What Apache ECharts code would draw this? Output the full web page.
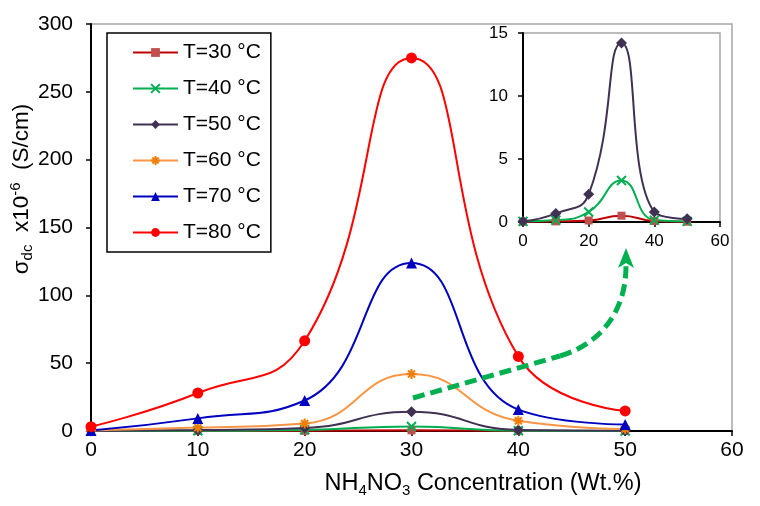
<!DOCTYPE html>
<html>
<head>
<meta charset="utf-8">
<script src="https://cdn.jsdelivr.net/npm/echarts@6/dist/echarts.min.js"></script>
<style>
  html, body { margin: 0; padding: 0; background: #fff; }
  #chart { width: 760px; height: 506px; }
</style>
</head>
<body>
<div id="chart"></div>
<script>
// NH4NO3 concentration (wt.%)
const conc = [0, 10, 20, 30, 40, 50];

// sigma_dc x10^-6 (S/cm)
const t30 = [0.02, 0.05, 0.12, 0.5, 0.08, 0.02];
const t40 = [0.05, 0.15, 0.8, 3.3, 0.15, 0.05];
const t50 = [0.05, 0.68, 2.2, 14.2, 0.8, 0.25];
const t60 = [0.4, 2.5, 5.5, 42, 7.5, 1.5];
const t70 = [0.3, 9.3, 22.5, 123.8, 15.8, 4.8];
const t80 = [3.2, 28, 66.5, 275, 55, 14.8];

const seriesNames = ["T=30 °C", "T=40 °C", "T=50 °C", "T=60 °C", "T=70 °C", "T=80 °C"];

const FONT = "Liberation Sans, Arial, sans-serif";
const crossPath = "path://M0,0L10,10M10,0L0,10";
const starPath = "path://M5,0L5,10M0,5L10,5M1.5,1.5L8.5,8.5M8.5,1.5L1.5,8.5";

const styles = [
  { line: "#C00000", mark: "#C0504D", symbol: "rect", size: 8 },
  { line: "#00B050", mark: "#00B050", symbol: crossPath, size: 9, stroke: true },
  { line: "#403152", mark: "#403152", symbol: "diamond", size: 11 },
  { line: "#F79646", mark: "#F07F09", symbol: starPath, size: 10, stroke: true },
  { line: "#0000C0", mark: "#0000C0", symbol: "triangle", size: 11 },
  { line: "#FF0000", mark: "#FF0000", symbol: "circle", size: 11 }
];

function pairs(vals) {
  return conc.map((c, i) => [c, vals[i]]);
}

function makeSeries(idx, vals, gridIdx) {
  const st = styles[idx];
  return {
    name: seriesNames[idx],
    type: "line",
    xAxisIndex: gridIdx,
    yAxisIndex: gridIdx,
    data: pairs(vals),
    smooth: 0.5,
    symbol: st.symbol,
    symbolSize: st.size,
    showAllSymbol: true,
    animation: false,
    lineStyle: { color: st.line, width: 2 },
    itemStyle: {
      color: st.mark,
      borderColor: st.mark,
      borderWidth: st.stroke ? 2 : 0
    }
  };
}

const chart = echarts.init(document.getElementById("chart"));

function valueAxis(gridIdx, max, interval, fontSize, margin) {
  return {
    type: "value",
    gridIndex: gridIdx,
    min: 0,
    max: max,
    interval: interval,
    splitLine: { show: false },
    axisLine: { show: true, onZero: false, lineStyle: { color: "#000", width: 2 } },
    axisTick: { show: true, inside: false, length: 5, lineStyle: { color: "#000", width: 1.5 } },
    axisLabel: { color: "#000", fontSize: fontSize, fontFamily: FONT, margin: margin }
  };
}

chart.setOption({
  backgroundColor: "#fff",
  grid: [
    { left: 91, top: 24, right: 28, bottom: 75, show: true, borderColor: "#A6A6A6", borderWidth: 1.5, backgroundColor: "transparent" },
    { left: 523, top: 33, right: 40, bottom: 284, show: true, borderColor: "#A6A6A6", borderWidth: 1.5, backgroundColor: "#fff" }
  ],
  xAxis: [
    valueAxis(0, 60, 10, 21, 9),
    valueAxis(1, 60, 20, 17, 11)
  ],
  yAxis: [
    valueAxis(0, 300, 50, 21, 18),
    valueAxis(1, 15, 5, 17, 15)
  ],
  legend: {
    left: 107,
    top: 33,
    orient: "vertical",
    padding: [9, 10, 9, 25],
    itemGap: 15,
    itemWidth: 45,
    itemHeight: 11,
    borderColor: "#000",
    borderWidth: 1.5,
    backgroundColor: "#fff",
    data: seriesNames,
    textStyle: { color: "#000", fontSize: 21, fontFamily: FONT }
  },
  graphic: [
    {
      type: "text",
      x: 22,
      y: 189,
      rotation: Math.PI / 2,
      style: {
        text: "{n|σ}{s|dc}{n|  x10}{p|-6}{n|  (S/cm)}",
        align: "center",
        verticalAlign: "middle",
        fill: "#000",
        rich: {
          n: { fontSize: 22.5, fontFamily: FONT, fill: "#000" },
          s: { fontSize: 15, fontFamily: FONT, fill: "#000", padding: [12, 0, 0, 0] },
          p: { fontSize: 15, fontFamily: FONT, fill: "#000", padding: [0, 0, 12, 0] }
        }
      }
    },
    {
      type: "text",
      x: 483,
      y: 484,
      style: {
        text: "{n|NH}{s|4}{n|NO}{s|3}{n| Concentration (Wt.%)}",
        align: "center",
        verticalAlign: "middle",
        fill: "#000",
        rich: {
          n: { fontSize: 23.5, fontFamily: FONT, fill: "#000" },
          s: { fontSize: 15, fontFamily: FONT, fill: "#000", padding: [13, 0, 0, 0] }
        }
      }
    },
    {
      type: "line",
      shape: { x1: 413, y1: 398, x2: 560, y2: 356 },
      style: { stroke: "#00B050", lineWidth: 5, lineDash: [12, 6] },
      z: 100
    },
    {
      type: "bezierCurve",
      shape: { x1: 560, y1: 356, cpx1: 600, cpy1: 344, cpx2: 626, cpy2: 312, x2: 626, y2: 266 },
      style: { fill: null, stroke: "#00B050", lineWidth: 5, lineDash: [12, 6] },
      z: 100
    },
    {
      type: "polygon",
      shape: { points: [[626, 248], [618, 268], [626, 263], [634, 268]] },
      style: { fill: "#00B050" },
      z: 100
    }
  ],
  series: [
    makeSeries(0, t30, 0),
    makeSeries(1, t40, 0),
    makeSeries(2, t50, 0),
    makeSeries(3, t60, 0),
    makeSeries(4, t70, 0),
    makeSeries(5, t80, 0),
    makeSeries(0, t30, 1),
    makeSeries(1, t40, 1),
    makeSeries(2, t50, 1)
  ]
});
</script>
</body>
</html>
